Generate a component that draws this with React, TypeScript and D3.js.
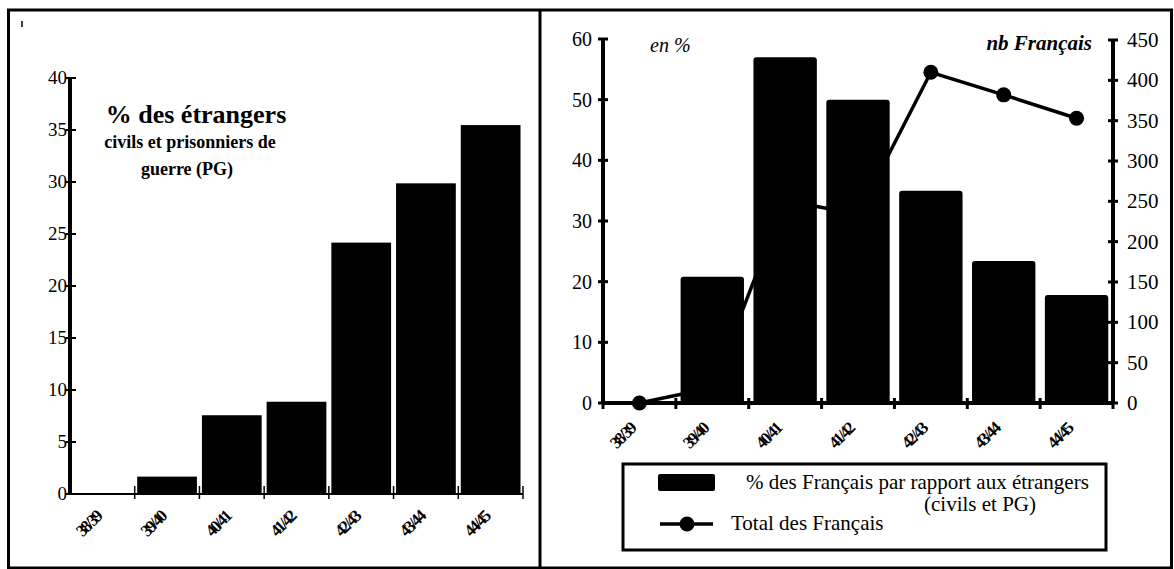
import React from 'react';
import * as d3 from 'd3';

const categories = ['38/39', '39/40', '40/41', '41/42', '42/43', '43/44', '44/45'];
const etrangersPct = [0, 1.6, 7.5, 8.8, 24.1, 29.8, 35.4];
const francaisPct = [0, 20.8, 57, 50, 35, 23.4, 17.8];
const francaisTotal = [0, 19, 251, 234, 410, 382, 353];
const leftTicks = [0, 5, 10, 15, 20, 25, 30, 35, 40];
const pctTicks = [0, 10, 20, 30, 40, 50, 60];
const nbTicks = [0, 50, 100, 150, 200, 250, 300, 350, 400, 450];

const serif = '"Liberation Serif", "DejaVu Serif", serif';
const S = { fontFamily: serif };

export default function App() {
  // left chart scales
  const lx = d3.scaleBand<string>().domain(categories).range([70, 523]).paddingInner(0.1).paddingOuter(0.05);
  const ly = d3.scaleLinear().domain([0, 40]).range([494, 78]);
  const lBounds = d3.range(categories.length + 1).map((i) => 70 + i * lx.step());

  // right chart scales
  const rx = d3.scaleBand<string>().domain(categories).range([603, 1113]).paddingInner(0.13).paddingOuter(0.065);
  const ryL = d3.scaleLinear().domain([0, 60]).range([403, 39]);
  const ryR = d3.scaleLinear().domain([0, 450]).range([403, 40]);
  const rBounds = d3.range(categories.length + 1).map((i) => 603 + i * rx.step());
  const cx = (c: string) => (rx(c) as number) + rx.bandwidth() / 2;
  const linePath = d3
    .line<number>()
    .x((_, i) => cx(categories[i]))
    .y((d) => ryR(d))(francaisTotal) as string;

  return (
    <svg width={1174} height={569} style={{ position: 'absolute', left: 0, top: 0, background: '#fff', fontFamily: serif }}>
      {/* frame */}
      <rect x={8.5} y={10} width={1163} height={558} fill="none" stroke="#000" strokeWidth={3} />
      <line x1={540} x2={540} y1={10} y2={569} stroke="#000" strokeWidth={3} />
      <line x1={22} x2={22} y1={21} y2={27} stroke="#000" strokeWidth={1.5} />

      {/* ===== LEFT CHART ===== */}
      {categories.map((c, i) => (
        <rect key={c} x={lx(c)} y={ly(etrangersPct[i])} width={lx.bandwidth()} height={ly(0) - ly(etrangersPct[i])}
          fill="#000" stroke="#000" strokeWidth={1.5} />
      ))}
      <line x1={70} x2={lBounds[lBounds.length - 1]} y1={ly(0)} y2={ly(0)} stroke="#000" strokeWidth={2} />
      {lBounds.slice(1).map((b, i) => (
        <line key={i} x1={b} x2={b} y1={ly(0) - 8} y2={ly(0) + 5} stroke="#000" strokeWidth={1.5} />
      ))}
      <line x1={70} x2={70} y1={ly(40)} y2={ly(0)} stroke="#000" strokeWidth={4} />
      {leftTicks.map((t) => (
        <g key={t}>
          <line x1={66} x2={76} y1={ly(t)} y2={ly(t)} stroke="#000" strokeWidth={2} />
          <text x={67} y={ly(t) + 6} fontSize={19} textAnchor="end" style={S}>{t}</text>
        </g>
      ))}
      {categories.map((c) => {
        const x = (lx(c) as number) + lx.bandwidth() / 2;
        const y = 518;
        return (
          <text key={c} x={x} y={y} fontSize={17} fontWeight="bold" letterSpacing={-2.2} textAnchor="end" style={S}
            transform={`rotate(-45, ${x}, ${y})`}>{c}</text>
        );
      })}
      <text x={196} y={123} fontSize={26} fontWeight="bold" textAnchor="middle" style={S}>% des étrangers</text>
      <text x={190} y={148} fontSize={18} fontWeight="bold" textAnchor="middle" style={S}>civils et prisonniers de</text>
      <text x={187} y={175} fontSize={18} fontWeight="bold" textAnchor="middle" style={S}>guerre (PG)</text>

      {/* ===== RIGHT CHART ===== */}
      <path d={linePath} fill="none" stroke="#000" strokeWidth={3.5} />
      {francaisTotal.map((v, i) => (
        <circle key={i} cx={cx(categories[i])} cy={ryR(v)} r={7.5} fill="#000" />
      ))}
      {categories.map((c, i) => (
        <rect key={c} x={rx(c)} y={ryL(francaisPct[i])} width={rx.bandwidth()} height={ryL(0) - ryL(francaisPct[i])}
          fill="#000" rx={3} />
      ))}
      <line x1={603} x2={1113} y1={ryL(0)} y2={ryL(0)} stroke="#000" strokeWidth={4} />
      {rBounds.map((b, i) => (
        <line key={i} x1={b} x2={b} y1={ryL(0) - 5} y2={ryL(0) + 6} stroke="#000" strokeWidth={3} />
      ))}
      <line x1={603} x2={603} y1={ryL(60)} y2={ryL(0)} stroke="#000" strokeWidth={4} />
      {pctTicks.map((t) => (
        <g key={t}>
          <line x1={598} x2={608} y1={ryL(t)} y2={ryL(t)} stroke="#000" strokeWidth={3} />
          <text x={592} y={ryL(t) + 7} fontSize={20} textAnchor="end" style={S}>{t}</text>
        </g>
      ))}
      <line x1={1113} x2={1113} y1={ryR(450)} y2={ryR(0)} stroke="#000" strokeWidth={4} />
      {nbTicks.map((t) => (
        <g key={t}>
          <line x1={1108} x2={1118} y1={ryR(t)} y2={ryR(t)} stroke="#000" strokeWidth={3} />
          <text x={1127} y={ryR(t) + 7} fontSize={21} textAnchor="start" style={S}>{t}</text>
        </g>
      ))}
      {categories.map((c) => {
        const x = cx(c) - 3;
        const y = 430;
        return (
          <text key={c} x={x} y={y} fontSize={17} fontWeight="bold" letterSpacing={-2.2} textAnchor="end" style={S}
            transform={`rotate(-45, ${x}, ${y})`}>{c}</text>
        );
      })}
      <text x={650} y={52} fontSize={20} fontStyle="italic" style={S}>en %</text>
      <text x={1092} y={50} fontSize={21} fontStyle="italic" fontWeight="bold" textAnchor="end" style={S}>nb Français</text>

      {/* legend */}
      <rect x={623} y={464} width={483} height={86} fill="#fff" stroke="#000" strokeWidth={3} />
      <rect x={658} y={474} width={57} height={17} fill="#000" rx={2} />
      <text x={746} y={489} fontSize={21} style={S}>% des Français par rapport aux étrangers</text>
      <text x={924} y={511} fontSize={21} style={S}>(civils et PG)</text>
      <line x1={660} x2={713} y1={524} y2={524} stroke="#000" strokeWidth={3.5} />
      <circle cx={687} cy={524} r={7.5} fill="#000" />
      <text x={731} y={530} fontSize={21} style={S}>Total des Français</text>
    </svg>
  );
}
